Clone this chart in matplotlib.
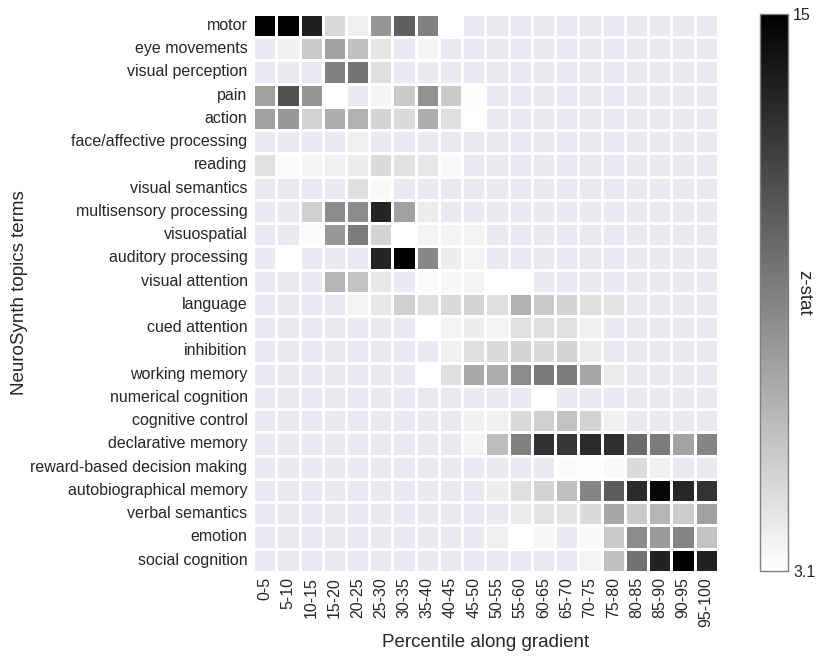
import numpy as np
import pandas as pd
import matplotlib
matplotlib.use('Agg')
import matplotlib.pyplot as plt
import seaborn as sns

sns.set_style('darkgrid')
plt.rcParams['font.family'] = ['Liberation Sans', 'DejaVu Sans']

terms = ['motor', 'eye movements', 'visual perception', 'pain', 'action',
         'face/affective processing', 'reading', 'visual semantics',
         'multisensory processing', 'visuospatial', 'auditory processing',
         'visual attention', 'language', 'cued attention', 'inhibition',
         'working memory', 'numerical cognition', 'cognitive control',
         'declarative memory', 'reward-based decision making',
         'autobiographical memory', 'verbal semantics', 'emotion',
         'social cognition']

bins = ['0-5', '5-10', '10-15', '15-20', '20-25', '25-30', '30-35', '35-40',
        '40-45', '45-50', '50-55', '55-60', '60-65', '65-70', '70-75', '75-80',
        '80-85', '85-90', '90-95', '95-100']

n = np.nan
# z-stat per term (rows) and gradient bin (columns); NaN = below threshold
zstat = [
    [15.0, 15.0, 13.5, 4.9, 3.8, 8.0, 10.5, 9.0, 3.1, n, n, n, n, n, n, n, n, n, n, n],
    [n, 3.8, 5.6, 7.5, 6.0, 4.3, n, 3.6, n, n, n, n, n, n, n, n, n, n, n, n],
    [n, n, n, 9.0, 9.6, 4.6, n, n, n, n, n, n, n, n, n, n, n, n, n, n],
    [7.5, 11.2, 8.0, 3.1, n, 3.6, 5.6, 8.2, 5.6, 3.2, n, n, n, n, n, n, n, n, n, n],
    [7.5, 7.9, 5.2, 6.9, 6.7, 5.1, 4.8, 6.9, 4.6, 3.1, n, n, n, n, n, n, n, n, n, n],
    [n, n, n, n, 3.8, n, n, n, n, n, n, n, n, n, n, n, n, n, n, n],
    [4.5, 3.3, 3.6, 3.8, 4.0, 4.8, 4.5, 4.2, 3.4, n, n, n, n, n, n, n, n, n, n, n],
    [n, n, n, n, 4.6, 3.4, n, n, n, n, n, n, n, n, n, n, n, n, n, n],
    [n, n, 5.3, 8.5, 8.5, 13.3, 7.5, 4.0, n, n, n, n, n, n, n, n, n, n, n, n],
    [n, n, 3.3, 7.9, 9.2, 5.1, 3.1, 3.7, 3.7, 3.7, n, n, n, n, n, n, n, n, n, n],
    [n, 3.1, n, n, n, 13.3, 15.0, 8.7, 3.9, 3.7, n, n, n, n, n, n, n, n, n, n],
    [n, n, n, 6.5, 5.9, 4.2, n, 3.3, 3.5, 3.7, 3.1, 3.1, n, n, n, n, n, n, n, n],
    [n, n, n, n, 3.7, 4.2, 5.3, 4.6, 4.9, 5.1, 4.6, 6.7, 5.6, 5.1, 4.6, 4.4, n, n, n, n],
    [n, n, n, n, n, n, n, 3.1, 3.7, 3.9, 3.7, 4.5, 4.6, 4.5, 3.8, n, n, n, n, n],
    [n, n, n, n, n, n, n, n, 3.8, 4.6, 4.8, 5.1, 4.8, 5.1, 4.0, n, n, n, n, n],
    [n, n, n, n, n, n, n, 3.1, 4.6, 7.1, 6.9, 8.5, 9.3, 9.2, 7.3, 4.0, n, n, n, n],
    [n, n, n, n, n, n, n, n, n, n, n, n, 3.1, n, n, n, n, n, n, n],
    [n, n, n, n, n, n, n, n, n, 3.8, 3.8, 4.9, 5.3, 5.9, 5.1, 3.8, n, n, n, n],
    [n, n, n, n, n, n, n, n, n, 3.7, 6.2, 9.0, 12.7, 12.4, 13.0, 12.8, 10.0, 9.2, 7.4, 8.8],
    [n, n, n, n, n, n, n, n, n, n, n, n, n, 3.3, 3.2, 3.4, 4.8, 3.8, n, n],
    [n, n, n, n, n, n, n, n, n, n, 3.9, 4.6, 5.1, 6.0, 8.8, 10.7, 13.0, 14.6, 13.2, 12.6],
    [n, n, n, n, n, n, n, n, n, n, n, 4.0, 4.4, 4.4, 4.8, 7.2, 5.6, 6.5, 5.5, 7.5],
    [n, n, n, n, n, n, n, n, n, n, 3.8, 3.1, 3.5, n, 3.4, 5.6, 8.5, 7.8, 8.8, 5.9],
    [n, n, n, n, n, n, n, n, n, n, n, n, n, n, 3.7, 6.0, 9.7, 13.4, 15.0, 13.4],
]

df = pd.DataFrame(zstat, index=terms, columns=bins)

fig = plt.figure(figsize=(8.27, 6.58), dpi=100)
ax = fig.add_axes([0.306, 0.131, 0.562, 0.848])
cax = fig.add_axes([0.919, 0.132, 0.034, 0.847])

sns.heatmap(df, ax=ax, cbar_ax=cax, cmap='gray_r', vmin=3.1, vmax=15,
            linewidths=1, linecolor='white')
ax.grid(False)

ax.set_xlabel('Percentile along gradient', fontsize=13.5, labelpad=5)
ax.set_ylabel('NeuroSynth topics terms', fontsize=13.5, labelpad=2)
ax.tick_params(axis='both', length=0, labelsize=11.5, pad=4)
ax.set_xticklabels(bins, rotation=90)
ax.set_yticklabels(terms, rotation=0)

cbar = ax.collections[0].colorbar
cbar.set_ticks([3.1, 15])
cbar.set_ticklabels(['3.1', '15'])
cbar.ax.tick_params(length=0, labelsize=11.5)
cbar.set_label('z-stat', fontsize=13.5, rotation=270, labelpad=-2)
cbar.outline.set_visible(True)
cbar.outline.set_edgecolor('#808080')
cbar.outline.set_linewidth(1)

fig.savefig('out.png', dpi=100)
